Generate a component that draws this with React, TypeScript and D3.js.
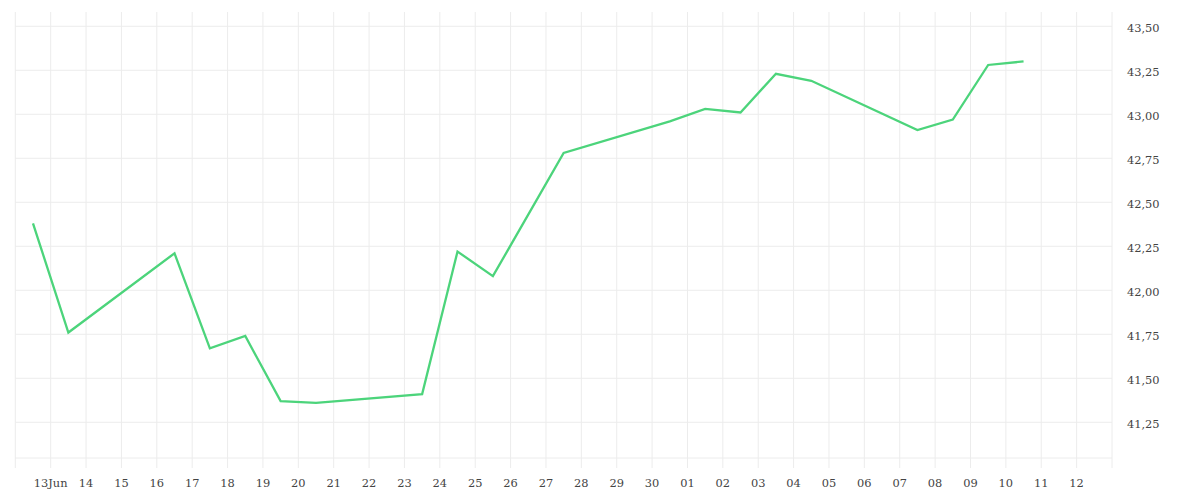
import React, { useEffect, useRef } from 'react';
import * as d3 from 'd3';

// trading days (plotted at midday) and closing values
const dates = [
  '2025-06-12', '2025-06-13', '2025-06-16', '2025-06-17', '2025-06-18',
  '2025-06-19', '2025-06-20', '2025-06-23', '2025-06-24', '2025-06-25',
  '2025-06-27', '2025-06-30', '2025-07-01', '2025-07-02', '2025-07-03',
  '2025-07-04', '2025-07-07', '2025-07-08', '2025-07-09', '2025-07-10',
];
const values = [
  42.38, 41.76, 42.21, 41.67, 41.74,
  41.37, 41.36, 41.41, 42.22, 42.08,
  42.78, 42.96, 43.03, 43.01, 43.23,
  43.19, 42.91, 42.97, 43.28, 43.30,
];

const xTickLabels = [
  '', '13Jun', '14', '15', '16', '17', '18', '19', '20', '21', '22', '23',
  '24', '25', '26', '27', '28', '29', '30', '01', '02', '03', '04', '05',
  '06', '07', '08', '09', '10', '11', '12',
];
const yTicks = [41.25, 41.5, 41.75, 42.0, 42.25, 42.5, 42.75, 43.0, 43.25, 43.5];

const App = () => {
  const svgRef = useRef(null);

  useEffect(() => {
    const width = 1200;
    const height = 500;
    const left = 15.3;
    const right = 1112;
    const top = 12;
    const bottom = 458;
    const gridColor = '#ececec';
    const font = '"DejaVu Serif", serif';

    const parse = d3.timeParse('%Y-%m-%d');
    const start = new Date(2025, 5, 12);
    const end = new Date(2025, 6, 13);

    const x = d3.scaleTime().domain([start, end]).range([left, right]);
    const y = d3.scaleLinear().domain([41.047, 43.581]).range([bottom, top]);

    const svg = d3.select(svgRef.current)
      .attr('width', width)
      .attr('height', height);
    svg.selectAll('*').remove();

    const days = d3.timeDay.range(start, end);

    // vertical grid, reaching below the plot as tick marks
    svg.append('g')
      .selectAll('line')
      .data(days)
      .enter()
      .append('line')
      .attr('x1', (d) => x(d))
      .attr('x2', (d) => x(d))
      .attr('y1', top)
      .attr('y2', bottom + 10)
      .attr('stroke', gridColor)
      .attr('stroke-width', 1);

    // horizontal grid
    svg.append('g')
      .selectAll('line')
      .data(yTicks)
      .enter()
      .append('line')
      .attr('x1', left)
      .attr('x2', right)
      .attr('y1', (d) => y(d))
      .attr('y2', (d) => y(d))
      .attr('stroke', gridColor)
      .attr('stroke-width', 1);

    // bottom edge and right axis
    svg.append('line')
      .attr('x1', left).attr('x2', right)
      .attr('y1', bottom).attr('y2', bottom)
      .attr('stroke', gridColor);
    svg.append('line')
      .attr('x1', right).attr('x2', right)
      .attr('y1', top).attr('y2', bottom + 10)
      .attr('stroke', gridColor);

    // x labels
    svg.append('g')
      .selectAll('text')
      .data(days)
      .enter()
      .append('text')
      .attr('x', (d) => x(d))
      .attr('y', 487)
      .attr('text-anchor', 'middle')
      .attr('font-family', font)
      .attr('font-size', 11.4)
      .attr('fill', '#444')
      .text((d, i) => xTickLabels[i]);

    // y labels
    const fmt = d3.format('.2f');
    svg.append('g')
      .selectAll('text')
      .data(yTicks)
      .enter()
      .append('text')
      .attr('x', right + 15)
      .attr('y', (d) => y(d) + 6)
      .attr('font-family', font)
      .attr('font-size', 11.4)
      .attr('fill', '#444')
      .text((d) => fmt(d).replace('.', ','));

    const points = dates.map((d, i) => {
      const t = parse(d);
      t.setHours(12);
      return { t, v: values[i] };
    });

    const line = d3.line()
      .x((d) => x(d.t))
      .y((d) => y(d.v));

    svg.append('path')
      .datum(points)
      .attr('d', line)
      .attr('fill', 'none')
      .attr('stroke', '#4cd47b')
      .attr('stroke-width', 2.3)
      .attr('stroke-linejoin', 'miter');
  }, []);

  return (
    <svg ref={svgRef} style={{ position: 'absolute', left: 0, top: 0 }}></svg>
  );
};

export default App;
